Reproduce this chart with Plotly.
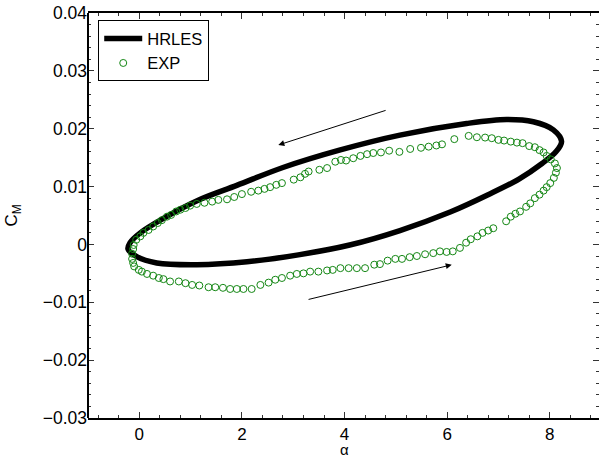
import plotly.graph_objects as go

# HRLES loop (alpha, C_M)
hr_alpha = [-0.22, -0.05, 0.34, 1.12, 2.10, 3.10, 4.10, 5.08, 6.06, 6.80, 7.40, 7.85, 8.12, 8.23,
            8.07, 7.68, 7.16, 6.38, 5.08, 3.90, 2.80, 1.90, 1.19, 0.47, 0.02, -0.18, -0.22]
hr_cm = [-0.0008, -0.0021, -0.0032, -0.0035, -0.0030, -0.0018, -0.0001, 0.0024, 0.0056, 0.0086,
         0.0113, 0.0140, 0.0160, 0.0178, 0.0198, 0.0212, 0.0216, 0.0209, 0.0189, 0.0163, 0.0133,
         0.0102, 0.0078, 0.0045, 0.0020, 0.0003, -0.0008]

# EXP data (alpha, C_M)
exp_alpha = [6.42, 6.58, 6.74, 6.87, 7.00, 7.11, 7.24, 7.36, 7.47, 7.60, 7.71, 7.80, 7.88, 7.94,
             8.02, 8.10, 8.14, 8.12, 8.08, 8.01, 7.94, 7.88, 7.80, 7.71, 7.62, 7.54, 7.42, 7.33,
             7.24, 7.15, 6.90, 6.80, 6.69, 6.59, 6.46, 6.37, 6.25, 6.11, 5.99, 5.86, 5.73, 5.57,
             5.41, 5.27, 5.12, 4.99, 4.84, 4.69, 4.58, 4.40, 4.24, 4.08, 3.92, 3.77, 3.66, 3.49,
             3.33, 3.20, 3.07, 2.94, 2.78, 2.65, 2.52, 2.36, 2.19, 2.03, 1.90, 1.77, 1.63, 1.48,
             1.35, 1.17, 1.03, 0.90, 0.77, 0.60, 0.47, 0.38, 0.27, 0.15, 0.05, -0.01, -0.10, -0.12,
             -0.14, -0.14, -0.12, -0.11, -0.06, 0.02, 0.08, 0.18, 0.27, 0.36, 0.44, 0.54, 0.62,
             0.72, 0.80, 0.90, 0.99, 1.12, 1.27, 1.42, 1.54, 1.71, 1.85, 2.00, 2.18, 2.32, 2.44,
             2.55, 2.67, 2.78, 3.01, 3.14, 3.23, 3.30, 3.51, 3.66, 3.82, 3.93, 4.03, 4.17, 4.31,
             4.44, 4.56, 4.71, 4.87, 5.07, 5.28, 5.49, 5.64, 5.79, 5.90, 6.14]
exp_cm = [0.01876, 0.01853, 0.01847, 0.01836, 0.01807, 0.01795, 0.01777, 0.0176, 0.0175, 0.0170,
          0.0168, 0.0163, 0.0159, 0.0153, 0.0147, 0.0140, 0.0132, 0.0124, 0.0115, 0.0106, 0.0099,
          0.0093, 0.0086, 0.0080, 0.0071, 0.0065, 0.0057, 0.0053, 0.0048, 0.0040, 0.0028, 0.0024,
          0.0020, 0.0014, 0.0009, 0.0003, -0.0006, -0.0012, -0.0013, -0.0012, -0.0015, -0.0017,
          -0.0020, -0.0022, -0.0025, -0.0025, -0.0028, -0.0034, -0.0035, -0.0041, -0.0041, -0.0041,
          -0.0041, -0.0044, -0.0045, -0.0047, -0.0047, -0.0050, -0.0051, -0.0054, -0.0058, -0.0061,
          -0.0066, -0.0070, -0.0077, -0.0077, -0.0077, -0.0077, -0.0075, -0.0074, -0.0074, -0.0071,
          -0.0070, -0.0067, -0.0064, -0.0064, -0.0060, -0.0058, -0.0054, -0.0051, -0.0047, -0.0044,
          -0.0038, -0.0032, -0.0025, -0.0016, -0.0008, -0.0001, 0.0008, 0.0014, 0.0020, 0.0025,
          0.0031, 0.0037, 0.0042, 0.0048, 0.0051, 0.0057, 0.0060, 0.0063, 0.0067, 0.0070, 0.0072,
          0.0074, 0.0077, 0.0078, 0.0082, 0.0087, 0.0091, 0.0093, 0.0096, 0.0099, 0.0103, 0.0106,
          0.0112, 0.0116, 0.0122, 0.0126, 0.0129, 0.0132, 0.0143, 0.0146, 0.0145, 0.0149, 0.0153,
          0.0156, 0.0158, 0.0159, 0.0162, 0.0160, 0.0165, 0.0167, 0.0169, 0.0171, 0.0173, 0.0182]

FONT = "Liberation Sans, Arial, Helvetica, sans-serif"

fig = go.Figure()
fig.add_trace(go.Scatter(x=hr_alpha, y=hr_cm, mode="lines", name="HRLES",
                         line=dict(color="black", width=5.5, shape="spline", smoothing=1.0)))
fig.add_trace(go.Scatter(x=exp_alpha, y=exp_cm, mode="markers", name="EXP",
                         marker=dict(symbol="circle-open", size=7, color="rgb(20,135,20)",
                                     line=dict(width=1, color="rgb(20,135,20)"))))

# direction arrows
fig.add_annotation(x=2.71, y=0.01718, ax=4.83, ay=0.02325, xref="x", yref="y", axref="x", ayref="y",
                   text="", showarrow=True, arrowhead=2, arrowsize=1.2, arrowwidth=1, arrowcolor="black")
fig.add_annotation(x=6.09, y=-0.00352, ax=3.27, ay=-0.00957, xref="x", yref="y", axref="x", ayref="y",
                   text="", showarrow=True, arrowhead=2, arrowsize=1.2, arrowwidth=1, arrowcolor="black")

# x-axis title placed just below the tick labels
fig.add_annotation(x=0.502, y=-0.1012, xref="paper", yref="paper", text="α", showarrow=False,
                   xanchor="center", yanchor="bottom", borderpad=0,
                   font=dict(size=15, color="black"))

# left frame line
fig.add_shape(type="line", xref="paper", yref="paper", x0=0, x1=0, y0=0, y1=1,
              line=dict(color="black", width=2))

fig.update_layout(
    width=599, height=459,
    margin=dict(l=88, r=0, t=13, b=41),
    paper_bgcolor="white", plot_bgcolor="white",
    font=dict(family=FONT, size=16, color="black"),
    showlegend=True,
    legend=dict(x=0.02, y=0.982, xanchor="left", yanchor="top", bgcolor="white",
                bordercolor="black", borderwidth=1, font=dict(size=16.5), tracegroupgap=0,
                itemwidth=38),
    xaxis=dict(range=[-1, 8.96], dtick=2, tick0=0, showgrid=False, zeroline=False,
               showline=True, linecolor="black", linewidth=2, mirror="ticks",
               ticks="inside", ticklen=6, tickwidth=1, tickcolor="#333",
               minor=dict(dtick=0.4, tick0=0, ticks="inside", ticklen=3, tickwidth=1, tickcolor="#333"),
               tickfont=dict(size=17)),
    yaxis=dict(range=[-0.03, 0.04], dtick=0.01, tick0=0, showgrid=False, zeroline=False,
               showline=False, mirror="ticks",
               ticks="inside", ticklen=6, tickwidth=1, tickcolor="#333",
               minor=dict(dtick=0.002, tick0=0, ticks="inside", ticklen=3, tickwidth=1, tickcolor="#333"),
               tickfont=dict(size=17.5),
               title=dict(text="C<sub>M</sub>", standoff=20, font=dict(size=17))),
)

fig.write_html("out.html")
